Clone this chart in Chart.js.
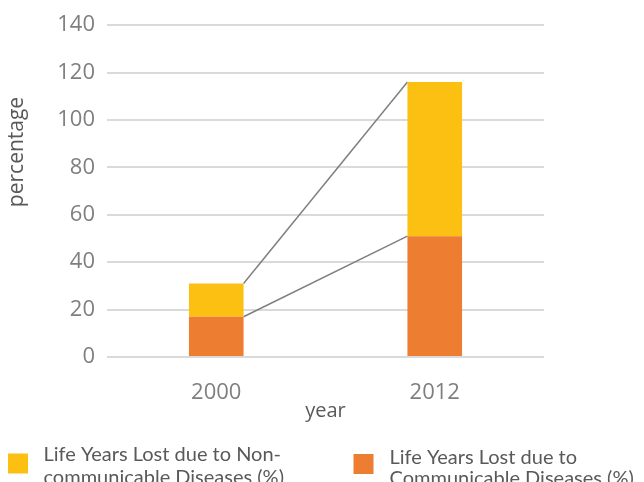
<!DOCTYPE html>
<html>
<head>
<meta charset="utf-8">
<script src="https://cdn.jsdelivr.net/npm/chart.js@4.4.0/dist/chart.umd.min.js"></script>
<style>
  html, body { margin: 0; padding: 0; background: #fff; }
  canvas { display: block; }
</style>
</head>
<body>
<canvas id="chart" width="644" height="482"></canvas>
<script>
// data
const years = ['2000', '2012'];
const communicable = [17, 51];
const nonCommunicable = [14, 65];
const seriesNames = [
  'Life Years Lost due to Communicable Diseases (%)',
  'Life Years Lost due to Non-communicable Diseases (%)'
];
const legendText = [
  ['Life Years Lost due to Non-', 'communicable Diseases (%)'],
  ['Life Years Lost due to', 'Communicable Diseases (%)']
];
const yMin = 0, yMax = 140, yStep = 20;

const ORANGE = '#ED7D31';
const YELLOW = '#FCC012';
const AXIS_FONT = '"Open Sans", sans-serif';
const LEGEND_FONT = 'Lato, sans-serif';

// grey connector lines between the stacked segments (Excel "series lines")
const seriesLines = {
  id: 'seriesLines',
  beforeDatasetsDraw(chart) {
    const ctx = chart.ctx;
    ctx.save();
    ctx.strokeStyle = '#7f7f7f';
    ctx.lineWidth = 1.5;
    chart.data.datasets.forEach((ds, i) => {
      const bars = chart.getDatasetMeta(i).data;
      for (let k = 0; k < bars.length - 1; k++) {
        const a = bars[k], b = bars[k + 1];
        ctx.beginPath();
        ctx.moveTo(a.x + a.width / 2, a.y);
        ctx.lineTo(b.x - b.width / 2, b.y);
        ctx.stroke();
      }
    });
    ctx.restore();
  }
};

// rotated y title, sits higher than the plot centre
const yTitle = {
  id: 'yTitle',
  afterDraw(chart) {
    const ctx = chart.ctx;
    ctx.save();
    ctx.translate(23, 152);
    ctx.rotate(-Math.PI / 2);
    ctx.font = '21px ' + AXIS_FONT;
    ctx.fillStyle = '#595959';
    ctx.textAlign = 'center';
    ctx.textBaseline = 'alphabetic';
    ctx.fillText('percentage', 0, 0);
    ctx.restore();
  }
};

// two-line legend under the axis
const legendBox = {
  id: 'legendBox',
  afterDraw(chart) {
    const ctx = chart.ctx;
    const items = [
      {color: YELLOW, box: [8, 453.5], text: [43.5, 461, 23]},
      {color: ORANGE, box: [353.5, 454], text: [389.5, 464, 20.5]}
    ];
    ctx.save();
    ctx.font = '20px ' + LEGEND_FONT;
    items.forEach((it, i) => {
      ctx.fillStyle = it.color;
      ctx.fillRect(it.box[0], it.box[1], 20, 20);
      ctx.fillStyle = '#595959';
      ctx.textBaseline = 'alphabetic';
      legendText[i].forEach((line, j) => {
        ctx.fillText(line, it.text[0], it.text[1] + j * it.text[2]);
      });
    });
    ctx.restore();
  }
};

new Chart(document.getElementById('chart'), {
  type: 'bar',
  data: {
    labels: years,
    datasets: [
      {label: seriesNames[0], data: communicable, backgroundColor: ORANGE,
       categoryPercentage: 0.25, barPercentage: 1.0},
      {label: seriesNames[1], data: nonCommunicable, backgroundColor: YELLOW,
       categoryPercentage: 0.25, barPercentage: 1.0}
    ]
  },
  options: {
    responsive: false,
    animation: false,
    layout: {padding: {top: 22, right: 100, bottom: 55, left: 0}},
    plugins: {legend: {display: false}, tooltip: {enabled: false}},
    scales: {
      x: {
        stacked: true,
        grid: {display: false},
        border: {display: false},
        ticks: {color: '#7f7f7f', font: {family: AXIS_FONT, size: 22}, padding: 15},
        title: {display: true, text: 'year', color: '#595959',
                font: {family: AXIS_FONT, size: 20}, padding: {top: 0, bottom: 4}},
        afterFit(scale) { scale.height = 70; }
      },
      y: {
        stacked: true,
        min: yMin,
        max: yMax,
        grid: {color: '#dadada', lineWidth: 2, drawTicks: false},
        border: {display: false},
        ticks: {stepSize: yStep, color: '#7f7f7f', font: {family: AXIS_FONT, size: 22}, padding: 12},
        afterFit(scale) { scale.width = 107; }
      }
    }
  },
  plugins: [seriesLines, yTitle, legendBox]
});
</script>
</body>
</html>
